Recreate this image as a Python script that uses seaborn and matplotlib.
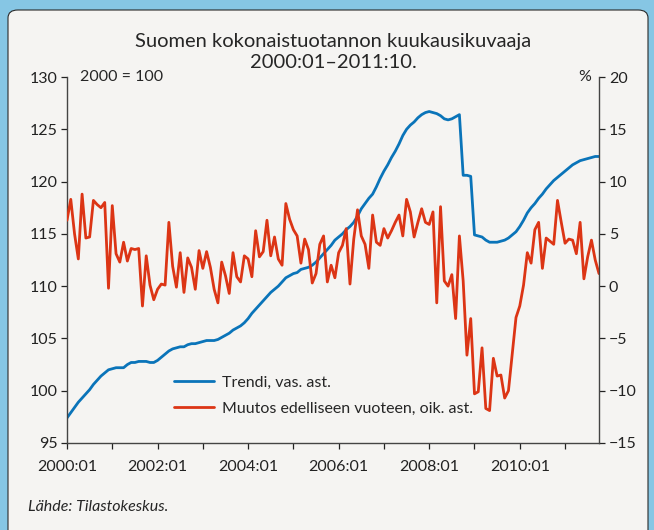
import numpy as np
import pandas as pd
import matplotlib
matplotlib.use("Agg")
import matplotlib.pyplot as plt
import seaborn as sns
from matplotlib.patches import FancyBboxPatch
from matplotlib.lines import Line2D

# monthly data 2000:01 - 2011:10
trend = [
    97.4, 97.9, 98.4, 98.9, 99.3, 99.7, 100.1, 100.6, 101.0, 101.4, 101.7, 102.0,
    102.1, 102.2, 102.2, 102.2, 102.5, 102.7, 102.7, 102.8, 102.8, 102.8, 102.7, 102.7,
    102.9, 103.2, 103.5, 103.8, 104.0, 104.1, 104.2, 104.2, 104.4, 104.5, 104.5, 104.6,
    104.7, 104.8, 104.8, 104.8, 104.9, 105.1, 105.3, 105.5, 105.8, 106.0, 106.2, 106.5,
    106.9, 107.4, 107.8, 108.2, 108.6, 109.0, 109.4, 109.7, 110.0, 110.4, 110.8, 111.0,
    111.2, 111.3, 111.6, 111.7, 111.8, 112.0, 112.3, 112.7, 113.1, 113.5, 113.9, 114.4,
    114.7, 115.0, 115.4, 115.7, 116.1, 116.7, 117.4, 117.9, 118.4, 118.8, 119.5, 120.3,
    121.0, 121.6, 122.3, 122.9, 123.6, 124.4, 125.0, 125.4, 125.7, 126.1, 126.4, 126.6,
    126.7, 126.6, 126.5, 126.3, 126.0, 125.9, 126.0, 126.2, 126.4, 120.6, 120.6, 120.5,
    114.9, 114.8, 114.7, 114.4, 114.2, 114.2, 114.2, 114.3, 114.4, 114.6, 114.9, 115.2,
    115.7, 116.3, 117.0, 117.5, 117.9, 118.4, 118.8, 119.3, 119.7, 120.1, 120.4, 120.7,
    121.0, 121.3, 121.6, 121.8, 122.0, 122.1, 122.2, 122.3, 122.4, 122.4,
]
change = [
    6.3, 8.3, 5.0, 2.6, 8.8, 4.6, 4.7, 8.2, 7.8, 7.5, 8.0, -0.2,
    7.7, 3.1, 2.3, 4.2, 2.4, 3.6, 3.5, 3.6, -1.9, 2.9, 0.1, -1.3,
    -0.3, 0.2, 0.1, 6.1, 1.9, -0.1, 3.2, -0.6, 2.7, 1.8, -0.3, 3.4,
    1.7, 3.3, 1.8, -0.3, -1.6, 2.3, 1.0, -0.7, 3.2, 0.9, 0.4, 2.9,
    2.6, 0.9, 5.3, 2.8, 3.3, 6.3, 2.9, 4.7, 2.6, 2.0, 7.9, 6.4,
    5.4, 4.8, 2.2, 4.5, 3.5, 0.3, 1.2, 4.0, 4.8, 0.4, 2.0, 0.8,
    3.2, 3.9, 5.5, 0.2, 4.5, 7.3, 4.8, 4.0, 1.7, 6.8, 4.2, 3.9,
    5.5, 4.6, 5.3, 6.1, 6.8, 4.8, 8.3, 7.1, 4.7, 6.1, 7.4, 6.1,
    5.9, 7.1, -1.6, 7.6, 0.5, 0.0, 1.1, -3.1, 4.8, 0.5, -6.6, -3.1,
    -10.3, -10.1, -5.9, -11.7, -11.9, -6.9, -8.6, -8.5, -10.7, -10.0, -6.5, -3.0,
    -1.9, 0.1, 3.2, 2.2, 5.4, 6.1, 1.7, 4.6, 4.3, 4.0, 8.2, 6.1,
    4.1, 4.5, 4.4, 3.1, 6.1, 0.7, 2.8, 4.4, 2.5, 1.2,
]
years = list(range(2000, 2012))
year_labels = [f"{y}:01" if y % 2 == 0 else "" for y in years]
left_ticks = [95, 100, 105, 110, 115, 120, 125, 130]
right_ticks = [-15, -10, -5, 0, 5, 10, 15, 20]

df = pd.DataFrame({"month": np.arange(len(trend)), "trend": trend, "change": change})

sns.set_style("ticks")
plt.rcParams['font.family'] = ['Lato', 'DejaVu Sans']

blue = "#0a74b9"
red = "#dc3515"
frame = "#86c6e4"
panel = "#f5f4f2"

fig = plt.figure(figsize=(6.54, 5.30), dpi=100, facecolor=frame)
fig.patches.append(FancyBboxPatch((8/654, -0.05), 640/654, (530-10)/530 + 0.05,
                                  boxstyle="round,pad=0,rounding_size=0.015",
                                  transform=fig.transFigure, facecolor=panel,
                                  edgecolor="#2a2a2a", linewidth=0.8, zorder=-10))

ax = fig.add_axes([67/654, (530-443)/530, (599-67)/654, (443-77)/530])
ax.set_facecolor("none")
ax2 = ax.twinx()
ax2.set_facecolor("none")

sns.lineplot(data=df, x="month", y="trend", ax=ax, color=blue, linewidth=2.0)
sns.lineplot(data=df, x="month", y="change", ax=ax2, color=red, linewidth=2.0)

ax.set_xlim(0, len(trend) - 1)
ax.set_ylim(95, 130)
ax2.set_ylim(-15, 20)
ax.set_yticks(left_ticks)
ax2.set_yticks(right_ticks)
ax.set_xticks([12 * i for i in range(len(years))])
ax.set_xticklabels(year_labels)
ax.set_xlabel("")
ax.set_ylabel("")
ax2.set_ylabel("")

for a in (ax, ax2):
    a.spines["top"].set_visible(False)
    for s in ("left", "right", "bottom"):
        a.spines[s].set_color("#444444")
        a.spines[s].set_linewidth(1.0)
    a.tick_params(axis="both", direction="out", length=4, width=0.9,
                  labelsize=11.5, colors="#222222", pad=3)
ax.tick_params(axis="x", pad=8)
ax.spines["right"].set_visible(False)
ax2.spines["left"].set_visible(False)
ax2.spines["bottom"].set_visible(False)

ax.text(0.025, 1.0, "2000 = 100", transform=ax.transAxes, fontsize=11.5,
        ha="left", va="center")
ax.text(0.985, 1.0, "%", transform=ax.transAxes, fontsize=11.5,
        ha="right", va="center")

fig.text(333/654, 1 - 41/530, "Suomen kokonaistuotannon kuukausikuvaaja",
         ha="center", va="center", fontsize=14.5)
fig.text(333/654, 1 - 63/530, "2000:01\u20132011:10.",
         ha="center", va="center", fontsize=14.5)
fig.text(28/654, 1 - 507/530, "Lähde: Tilastokeskus.", ha="left", va="center",
         fontsize=11.5, style="italic")

handles = [Line2D([], [], color=blue, lw=2.0), Line2D([], [], color=red, lw=2.0)]
ax2.legend(handles, ["Trendi, vas. ast.", "Muutos edelliseen vuoteen, oik. ast."],
           loc="lower left", bbox_to_anchor=(0.175, 0.035), frameon=False,
           fontsize=11.5, handlelength=2.5, handletextpad=0.45, labelspacing=0.75)

fig.savefig("out.png", dpi=100, facecolor=frame)
